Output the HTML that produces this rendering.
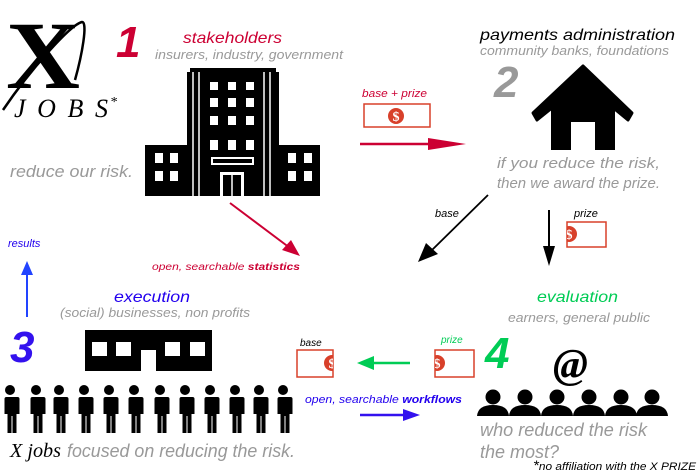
<!DOCTYPE html>
<html><head><style>
html,body{margin:0;padding:0;background:#fff;width:698px;height:475px;overflow:hidden}
svg{display:block}
text{font-family:"Liberation Sans",sans-serif;font-style:italic}
.g{fill:#999}
.s{font-family:"Liberation Serif",serif}
</style></head><body>
<svg width="698" height="475" viewBox="0 0 698 475" xmlns="http://www.w3.org/2000/svg">
<defs>
<g id="man"><circle cx="9" cy="5" r="5"/><path d="M1.5,12 h15 a2,2 0 0 1 2,2 v15 h-3 v19 h-4 v-17 h-1 v17 h-4 v-19 h-3 v-15 a2,2 0 0 1 2,-2z"/></g>
<g id="bust"><circle cx="16" cy="8" r="7.5"/><path d="M0,27 q1,-11 16,-11 q15,0 16,11z"/></g>
<g id="dol"><circle r="8" fill="#d8402a"/><text x="0" y="5" text-anchor="middle" font-size="14" fill="#fff" class="s" font-weight="bold" style="font-style:normal">$</text></g>
</defs>

<!-- X JOBS logo -->
<text x="6" y="88" font-size="96" class="s" font-weight="bold" style="font-style:normal" textLength="74" lengthAdjust="spacingAndGlyphs">X</text>
<path d="M3,110 C30,70 70,25 82,22 C88,22 82,55 75,80" stroke="#000" stroke-width="2.5" fill="none"/>
<text x="14" y="117" font-size="26" class="s" textLength="94" lengthAdjust="spacing">JOBS</text>
<text x="110" y="106" font-size="14" class="s">*</text>
<text x="10" y="177" font-size="17" class="g" textLength="123" lengthAdjust="spacingAndGlyphs">reduce our risk.</text>

<!-- 1 stakeholders -->
<text x="116" y="57" font-size="44" font-weight="bold" fill="#cc0033">1</text>
<text x="183" y="43" font-size="16" fill="#cc0033" textLength="99" lengthAdjust="spacingAndGlyphs">stakeholders</text>
<text x="155" y="59" font-size="13" class="g" textLength="188" lengthAdjust="spacingAndGlyphs">insurers, industry, government</text>
<!-- building -->
<g>
<path d="M187,196 V72 h3 V68 h86 v4 h3 V196z" fill="#000"/>
<rect x="145" y="145" width="42" height="51" fill="#000"/>
<rect x="279" y="145" width="41" height="51" fill="#000"/>
<line x1="193" y1="72" x2="193" y2="196" stroke="#fff" stroke-width="1.5"/>
<line x1="199" y1="72" x2="199" y2="196" stroke="#fff" stroke-width="1.5"/>
<line x1="264" y1="72" x2="264" y2="196" stroke="#fff" stroke-width="1.5"/>
<line x1="270" y1="72" x2="270" y2="196" stroke="#fff" stroke-width="1.5"/>
<g fill="#fff">
<rect x="210" y="82" width="8" height="8"/><rect x="228" y="82" width="8" height="8"/><rect x="246" y="82" width="8" height="8"/>
<rect x="210" y="98" width="8" height="9"/><rect x="228" y="98" width="8" height="9"/><rect x="246" y="98" width="8" height="9"/>
<rect x="210" y="116" width="8" height="9"/><rect x="228" y="116" width="8" height="9"/><rect x="246" y="116" width="8" height="9"/>
<rect x="210" y="140" width="8" height="10"/><rect x="228" y="140" width="8" height="10"/><rect x="246" y="140" width="8" height="10"/>
<rect x="211" y="157" width="43" height="8"/>
<rect x="220" y="172" width="24" height="24"/>
<rect x="155" y="153" width="8" height="10"/><rect x="170" y="153" width="8" height="10"/>
<rect x="155" y="171" width="8" height="10"/><rect x="170" y="171" width="8" height="10"/>
<rect x="288" y="153" width="8" height="10"/><rect x="304" y="153" width="8" height="10"/>
<rect x="288" y="171" width="8" height="10"/><rect x="304" y="171" width="8" height="10"/>
</g>
<rect x="213" y="159" width="39" height="4" fill="#000"/>
<rect x="223" y="175" width="18" height="21" fill="#000"/>
<line x1="232" y1="175" x2="232" y2="196" stroke="#fff" stroke-width="1.5"/>
</g>

<!-- red arrow down-right -->
<line x1="230" y1="203" x2="290" y2="248" stroke="#cc0033" stroke-width="2"/>
<polygon points="300,256 282,250 291,240" fill="#cc0033"/>
<text x="152" y="270" font-size="10" fill="#cc0033" textLength="148" lengthAdjust="spacingAndGlyphs">open, searchable <tspan font-weight="bold">statistics</tspan></text>

<!-- results -->
<text x="8" y="247" font-size="11" fill="#2200ee">results</text>
<line x1="27" y1="317" x2="27" y2="272" stroke="#2244ff" stroke-width="2"/>
<polygon points="27,261 21,275 33,275" fill="#2244ff"/>

<!-- base + prize -->
<text x="362" y="97" font-size="11" fill="#cc0033" textLength="65" lengthAdjust="spacingAndGlyphs">base + prize</text>
<rect x="364" y="104" width="66" height="23" fill="none" stroke="#d8402a" stroke-width="1.5"/>
<use href="#dol" x="396" y="116"/>
<line x1="360" y1="144" x2="440" y2="144" stroke="#cc0033" stroke-width="2.5"/>
<polygon points="466,144 428,138 428,150" fill="#cc0033"/>

<!-- 2 payments -->
<text x="480" y="40" font-size="16" fill="#000" textLength="195" lengthAdjust="spacingAndGlyphs">payments administration</text>
<text x="480" y="55" font-size="13" class="g" textLength="189" lengthAdjust="spacingAndGlyphs">community banks, foundations</text>
<text x="494" y="97" font-size="44" font-weight="bold" fill="#999">2</text>
<path d="M533,113 L583,66 L632,113 L628,120 L583,83 L537,120z" fill="#000" stroke="#000" stroke-width="3" stroke-linejoin="round"/>
<path d="M551,109 L583,82 L615,109 V150 H551z" fill="#000"/>
<rect x="571" y="122" width="24" height="28" fill="#fff"/>
<text x="497" y="168" font-size="15" class="g" textLength="163" lengthAdjust="spacingAndGlyphs">if you reduce the risk,</text>
<text x="497" y="188" font-size="15" class="g" textLength="163" lengthAdjust="spacingAndGlyphs">then we award the prize.</text>

<!-- base arrow -->
<text x="435" y="217" font-size="11">base</text>
<line x1="488" y1="195" x2="432" y2="250" stroke="#000" stroke-width="1.8"/>
<polygon points="418,262 426,243 438,254" fill="#000"/>
<!-- prize arrow -->
<line x1="549" y1="210" x2="549" y2="250" stroke="#000" stroke-width="2"/>
<polygon points="549,266 543,246 555,246" fill="#000"/>
<text x="574" y="217" font-size="11">prize</text>
<rect x="567" y="222" width="39" height="25" fill="none" stroke="#d8402a" stroke-width="1.5"/>
<svg x="567" y="222" width="10" height="25"><use href="#dol" x="2" y="12"/></svg>

<!-- 3 execution -->
<text x="114" y="302" font-size="16" fill="#2200ee" textLength="76" lengthAdjust="spacingAndGlyphs">execution</text>
<text x="60" y="317" font-size="13" class="g" textLength="190" lengthAdjust="spacingAndGlyphs">(social) businesses, non profits</text>
<text x="10" y="362" font-size="44" font-weight="bold" fill="#3311ee">3</text>
<path d="M85,330 H212 V371 H156 V350 H141 V371 H85z" fill="#000"/>
<g fill="#fff"><rect x="92" y="342" width="15" height="14"/><rect x="116" y="342" width="15" height="14"/><rect x="165" y="342" width="15" height="14"/><rect x="190" y="342" width="15" height="14"/></g>
<g>
<use href="#man" x="1" y="385"/><use href="#man" x="27" y="385"/><use href="#man" x="50" y="385"/><use href="#man" x="75" y="385"/>
<use href="#man" x="100" y="385"/><use href="#man" x="125" y="385"/><use href="#man" x="151" y="385"/><use href="#man" x="176" y="385"/>
<use href="#man" x="201" y="385"/><use href="#man" x="226" y="385"/><use href="#man" x="250" y="385"/><use href="#man" x="274" y="385"/>
</g>
<text x="10" y="457" font-size="20" class="s" textLength="51" lengthAdjust="spacingAndGlyphs">X jobs</text>
<text x="67" y="457" font-size="18" class="g" textLength="228" lengthAdjust="spacingAndGlyphs">focused on reducing the risk.</text>

<!-- middle bottom -->
<text x="300" y="346" font-size="10">base</text>
<rect x="297" y="350" width="36" height="27" fill="none" stroke="#d8402a" stroke-width="1.5"/>
<svg x="297" y="350" width="36" height="27"><use href="#dol" x="35" y="13"/></svg>
<line x1="372" y1="363" x2="410" y2="363" stroke="#00cc55" stroke-width="2.5"/>
<polygon points="357,363 374,356 374,370" fill="#00cc55"/>
<text x="441" y="343" font-size="10" fill="#00cc55">prize</text>
<rect x="435" y="350" width="39" height="27" fill="none" stroke="#d8402a" stroke-width="1.5"/>
<svg x="435" y="350" width="10" height="27"><use href="#dol" x="2" y="13"/></svg>
<text x="305" y="403" font-size="11" fill="#2200ee" textLength="157" lengthAdjust="spacingAndGlyphs">open, searchable <tspan font-weight="bold">workflows</tspan></text>
<line x1="360" y1="415" x2="405" y2="415" stroke="#3311ee" stroke-width="2.5"/>
<polygon points="420,415 403,409 403,421" fill="#3311ee"/>

<!-- 4 evaluation -->
<text x="537" y="302" font-size="16" fill="#00cc55" textLength="81" lengthAdjust="spacingAndGlyphs">evaluation</text>
<text x="508" y="322" font-size="13" class="g" textLength="142" lengthAdjust="spacingAndGlyphs">earners, general public</text>
<text x="485" y="368" font-size="44" font-weight="bold" fill="#00cc55">4</text>
<text x="553" y="378" font-size="42" font-weight="bold" class="s">@</text>
<g>
<use href="#bust" x="477" y="389"/><use href="#bust" x="509" y="389"/><use href="#bust" x="541" y="389"/>
<use href="#bust" x="573" y="389"/><use href="#bust" x="605" y="389"/><use href="#bust" x="636" y="389"/>
</g>
<text x="480" y="436" font-size="18" class="g" textLength="167" lengthAdjust="spacingAndGlyphs">who reduced the risk</text>
<text x="480" y="458" font-size="18" class="g">the most?</text>
<text x="533" y="470" font-size="11" textLength="163" lengthAdjust="spacingAndGlyphs"><tspan font-size="14">*</tspan>no affiliation with the X PRIZE</text>
</svg>
</body></html>
